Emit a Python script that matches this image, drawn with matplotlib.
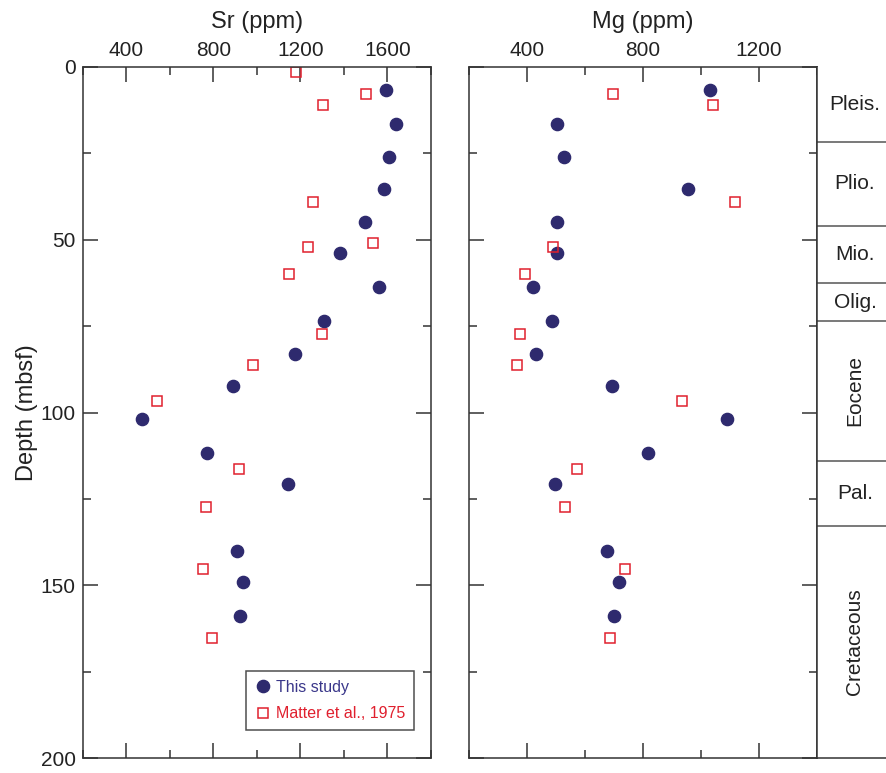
import matplotlib
matplotlib.use("Agg")
import matplotlib.pyplot as plt
from matplotlib.ticker import MultipleLocator

plt.rcParams['font.family'] = ['Liberation Sans', 'DejaVu Sans']

# this study (circles)
depth_this = [6.7, 16.5, 26.2, 35.3, 44.9, 54.0, 63.6, 73.5, 83.2, 92.2,
              101.9, 111.6, 120.6, 140.1, 149.1, 158.8]
sr_this = [1593, 1637, 1606, 1586, 1497, 1384, 1561, 1308, 1174, 889,
           471, 770, 1143, 909, 935, 923]
mg_this = [1032, 502, 528, 956, 502, 502, 421, 487, 430, 692,
           1089, 816, 495, 676, 717, 700]

# Matter et al., 1975 (squares)
depth_sr_matter = [1.5, 7.9, 11.2, 39.0, 50.9, 52.2, 59.9, 77.2, 86.3, 96.7,
                   116.2, 127.2, 145.3, 165.3]
sr_matter = [1180, 1501, 1302, 1258, 1533, 1237, 1148, 1301, 982, 541,
             917, 765, 751, 796]
depth_mg_matter = [7.9, 11.2, 39.0, 52.2, 59.9, 77.2, 86.3, 96.7,
                   116.2, 127.2, 145.3, 165.3]
mg_matter = [697, 1043, 1117, 490, 392, 375, 367, 936, 573, 532, 738, 688]

# stratigraphic column
epoch_names = ['Pleis.', 'Plio.', 'Mio.', 'Olig.', 'Eocene', 'Pal.', 'Cretaceous']
epoch_bounds = [0, 21.7, 46.0, 62.6, 73.6, 113.9, 132.7, 200]

blue = '#2e2a6e'
red = '#e0202e'
spine_col = '#333333'

fig = plt.figure(figsize=(8.86, 7.73), dpi=100)
ax1 = fig.add_axes([0.0933, 0.019, 0.3932, 0.8947])
ax2 = fig.add_axes([0.5293, 0.019, 0.3928, 0.8947])
ax3 = fig.add_axes([0.9221, 0.019, 0.0779, 0.8947])


def style_axis(ax, xlim, label):
    ax.set_xlim(*xlim)
    ax.set_ylim(200, 0)
    ax.xaxis.set_major_locator(MultipleLocator(400))
    ax.xaxis.set_minor_locator(MultipleLocator(200))
    ax.yaxis.set_major_locator(MultipleLocator(50))
    ax.yaxis.set_minor_locator(MultipleLocator(25))
    ax.tick_params(which='both', direction='in', top=True, bottom=True,
                   left=True, right=True, labeltop=True, labelbottom=False,
                   colors=spine_col, labelcolor='#222222', width=1.1,
                   labelsize=15, pad=5)
    ax.tick_params(which='major', length=11)
    ax.tick_params(which='minor', length=6)
    ax.xaxis.set_label_position('top')
    ax.set_xlabel(label, fontsize=17, color='#222222', labelpad=9)
    for s in ax.spines.values():
        s.set_color(spine_col)
        s.set_linewidth(1.1)


style_axis(ax1, (200, 1800), 'Sr (ppm)')
ax1.set_ylabel('Depth (mbsf)', fontsize=17, color='#222222', labelpad=2)
ax1.plot(sr_this, depth_this, 'o', color=blue, markersize=8.8, label='This study')
ax1.plot(sr_matter, depth_sr_matter, 's', mfc='none', mec=red, mew=1.1,
         markersize=7, label='Matter et al., 1975')
leg = ax1.legend(loc='lower right', bbox_to_anchor=(0.951, 0.041), fontsize=11.5,
                 frameon=True, fancybox=False, edgecolor='#222222',
                 handletextpad=0.3, borderpad=0.55, labelspacing=0.7,
                 handlelength=1.0, borderaxespad=0)
leg.get_frame().set_linewidth(1.1)
for t, c in zip(leg.get_texts(), ['#3a378a', red]):
    t.set_color(c)

style_axis(ax2, (200, 1400), 'Mg (ppm)')
ax2.tick_params(labelleft=False)
ax2.plot(mg_this, depth_this, 'o', color=blue, markersize=8.8)
ax2.plot(mg_matter, depth_mg_matter, 's', mfc='none', mec=red, mew=1.1,
         markersize=7)

# stratigraphic column
ax3.set_xlim(0, 1)
ax3.set_ylim(200, 0)
ax3.set_xticks([])
ax3.set_yticks([])
ax3.spines['top'].set_visible(False)
ax3.spines['right'].set_visible(False)
for s in ['left', 'bottom']:
    ax3.spines[s].set_color(spine_col)
    ax3.spines[s].set_linewidth(1.1)
for b in epoch_bounds[1:-1]:
    ax3.axhline(b, color='#555555', lw=1.1)
for i, name in enumerate(epoch_names):
    mid = (epoch_bounds[i] + epoch_bounds[i + 1]) / 2
    rot = 90 if name in ('Eocene', 'Cretaceous') else 0
    ax3.text(0.55, mid, name, ha='center', va='center', rotation=rot,
             fontsize=15, color='#222222')

fig.savefig('out.png', dpi=100)
